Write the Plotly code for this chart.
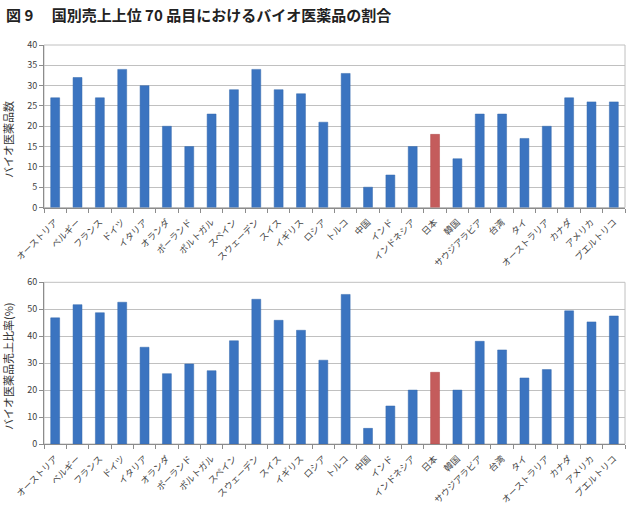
import plotly.graph_objects as go

countries = ["オーストリア", "ベルギー", "フランス", "ドイツ", "イタリア", "オランダ", "ポーランド",
             "ポルトガル", "スペイン", "スウェーデン", "スイス", "イギリス", "ロシア", "トルコ",
             "中国", "インド", "インドネシア", "日本", "韓国", "サウジアラビア", "台湾", "タイ",
             "オーストラリア", "カナダ", "アメリカ", "プエルトリコ"]
bio_counts = [27, 32, 27, 34, 30, 20, 15, 23, 29, 34, 29, 28, 21, 33,
              5, 8, 15, 18, 12, 23, 23, 17, 20, 27, 26, 26]
bio_sales_ratio = [46.8, 51.7, 48.7, 52.6, 35.9, 26.1, 29.7, 27.2, 38.3, 53.7, 45.9, 42.2, 31.1, 55.5,
                   5.8, 14.1, 20.0, 26.6, 20.0, 38.1, 34.9, 24.5, 27.6, 49.4, 45.3, 47.5]
highlight = "日本"

W, H = 629, 507
blue = "#3b74c0"
red = "#c45c5c"
colors = [red if c == highlight else blue for c in countries]
line_colors = ["#b04848" if c == highlight else "#3468ad" for c in countries]

fig = go.Figure()
fig.add_trace(go.Bar(x=countries, y=bio_counts, marker=dict(color=colors, line=dict(width=0.5, color=line_colors)),
                     width=0.4, xaxis="x", yaxis="y", showlegend=False))
fig.add_trace(go.Bar(x=countries, y=bio_sales_ratio, marker=dict(color=colors, line=dict(width=0.5, color=line_colors)),
                     width=0.4, xaxis="x2", yaxis="y2", showlegend=False))

xdom = [44 / W, 625 / W]
top_dom = [1 - 207.5 / H, 1 - 45 / H]
bot_dom = [1 - 444 / H, 1 - 282.3 / H]

tickfont = dict(family="Noto Sans CJK JP", size=9, color="#404040")
xfont = dict(family="Noto Sans CJK JP", size=9, color="#444444")

xcommon = dict(domain=xdom, tickangle=-45, tickfont=xfont, showline=True, linecolor="#8c8c8c",
               linewidth=1, ticks="outside", tickson="boundaries", ticklen=4, tickcolor="#8c8c8c",
               ticklabelstandoff=5,
               mirror=False, showgrid=False, fixedrange=True, automargin=False)
ycommon = dict(showline=True, linecolor="#8c8c8c", linewidth=1, ticks="outside", ticklen=4,
               tickcolor="#8c8c8c", gridcolor="#c0c0c0", gridwidth=1, tickfont=tickfont,
               zeroline=False, automargin=False)

fig.update_layout(
    width=W, height=H,
    margin=dict(l=0, r=0, t=0, b=0, autoexpand=False),
    paper_bgcolor="white", plot_bgcolor="white",
    font=dict(family="Noto Sans CJK JP"),
    xaxis=dict(anchor="y", **xcommon),
    yaxis=dict(domain=top_dom, range=[0, 40], dtick=5, anchor="x", **ycommon),
    xaxis2=dict(anchor="y2", **xcommon),
    yaxis2=dict(domain=bot_dom, range=[0, 60], dtick=10, anchor="x2", **ycommon),
    shapes=[
        dict(type="rect", xref="paper", yref="paper", x0=xdom[0], x1=xdom[1], y0=top_dom[0], y1=top_dom[1],
             line=dict(color="#c0c0c0", width=1), layer="below"),
        dict(type="rect", xref="paper", yref="paper", x0=xdom[0], x1=xdom[1], y0=bot_dom[0], y1=bot_dom[1],
             line=dict(color="#c0c0c0", width=1), layer="below"),
    ],
    annotations=[
        dict(text="<b>図 9　 国別売上上位 70 品目におけるバイオ医薬品の割合</b>", xref="paper", yref="paper",
             x=4 / W, y=1 - 14 / H, xanchor="left", yanchor="middle", showarrow=False,
             font=dict(family="Noto Sans CJK JP", size=15, color="#222222")),
        dict(text="バイオ医薬品数", xref="paper", yref="paper", x=8 / W, y=1 - 140 / H,
             xanchor="center", yanchor="middle", textangle=-90, showarrow=False,
             font=dict(family="Noto Sans CJK JP", size=11, color="#333333")),
        dict(text="バイオ医薬品売上比率(%)", xref="paper", yref="paper", x=8 / W, y=1 - 366 / H,
             xanchor="center", yanchor="middle", textangle=-90, showarrow=False,
             font=dict(family="Noto Sans CJK JP", size=11, color="#333333")),
    ],
)

fig.write_html("out.html")
